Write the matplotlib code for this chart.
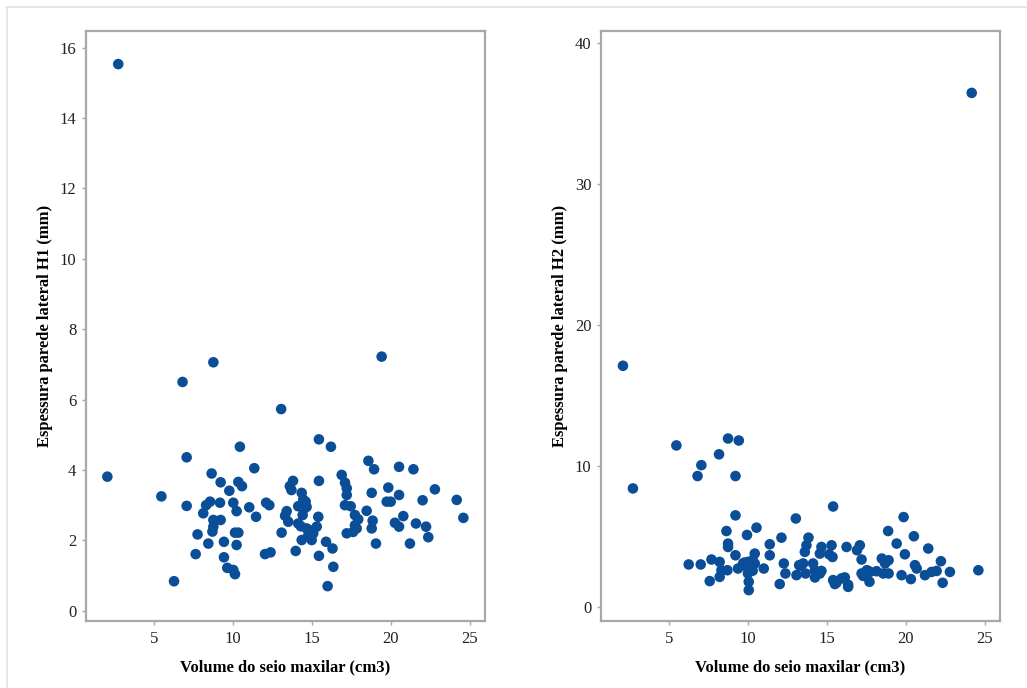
import matplotlib
matplotlib.use("Agg")
import matplotlib.pyplot as plt
from matplotlib.lines import Line2D

# ---- data ----
h1_x = [2.74, 19.41, 8.76, 6.81, 13.05, 15.44, 16.20, 10.44, 7.07, 2.05,
        11.35, 18.57, 18.93, 20.51, 21.42, 5.47, 8.65, 9.22, 9.77, 10.34,
        10.57, 7.07, 8.30, 8.55, 8.12, 9.18, 10.02, 10.23, 11.03, 11.46,
        12.10, 12.30, 8.76, 9.22, 8.76, 8.70, 7.76, 8.44, 9.43, 10.13,
        10.34, 10.23, 7.64, 9.43, 9.64, 10.02, 10.13, 12.03, 12.38, 6.27,
        13.08, 13.97, 13.40, 13.30, 13.50, 13.60, 13.80, 13.70, 14.35, 14.45,
        14.56, 14.13, 14.66, 14.41, 14.13, 14.66, 15.30, 15.08, 14.77, 14.98,
        14.35, 15.40, 15.44, 15.89, 16.30, 15.44, 16.35, 15.99, 16.88, 17.09,
        17.20, 17.20, 17.09, 17.45, 17.72, 17.93, 18.46, 17.72, 17.83, 17.20,
        17.60, 18.78, 18.84, 18.78, 19.05, 19.83, 19.73, 19.98, 20.51, 20.78,
        20.25, 20.51, 21.20, 21.58, 22.00, 22.22, 22.36, 22.78, 24.16, 24.58,
        14.60, 14.50, 14.30, 14.80]
h1_y = [15.53, 7.22, 7.06, 6.50, 5.73, 4.87, 4.66, 4.66, 4.36, 3.81,
        4.05, 4.26, 4.02, 4.09, 4.02, 3.25, 3.90, 3.65, 3.41, 3.66,
        3.54, 2.98, 3.00, 3.10, 2.77, 3.07, 3.07, 2.83, 2.94, 2.67,
        3.07, 3.00, 2.58, 2.58, 2.39, 2.25, 2.17, 1.91, 1.96, 2.22,
        2.22, 1.87, 1.61, 1.52, 1.22, 1.16, 1.04, 1.61, 1.66, 0.84,
        2.22, 1.70, 2.83, 2.70, 2.53, 3.54, 3.69, 3.43, 3.35, 3.16,
        3.03, 2.97, 2.95, 2.72, 2.48, 2.34, 2.39, 2.20, 2.15, 2.01,
        2.01, 2.67, 3.69, 1.96, 1.77, 1.56, 1.25, 0.70, 3.86, 3.64,
        3.48, 3.29, 3.00, 2.97, 2.72, 2.60, 2.84, 2.43, 2.34, 2.20,
        2.24, 3.35, 2.56, 2.34, 1.91, 3.50, 3.10, 3.10, 3.29, 2.69,
        2.50, 2.39, 1.91, 2.48, 3.14, 2.39, 2.09, 3.45, 3.15, 2.64,
        3.10, 2.90, 2.40, 2.30]

h2_x = [24.16, 2.09, 2.72, 5.47, 8.74, 9.42, 8.17, 7.05, 6.81, 9.21,
        9.21, 15.39, 13.03, 19.85, 10.54, 9.94, 8.64, 8.74, 8.74, 12.12,
        11.38, 11.38, 13.83, 13.70, 13.60, 14.65, 14.55, 9.21, 10.43, 10.30,
        10.43, 10.00, 10.05, 10.00, 10.05, 10.05, 9.69, 9.37, 7.69, 8.21,
        8.32, 8.21, 8.70, 7.58, 6.25, 7.01, 11.00, 12.27, 12.37, 12.01,
        13.07, 13.24, 13.49, 13.64, 14.12, 14.23, 14.55, 15.29, 16.24, 17.08,
        16.90, 17.19, 15.35, 15.14, 18.47, 18.68, 18.90, 18.90, 18.56, 17.52,
        17.19, 17.72, 18.14, 17.69, 15.39, 15.60, 15.92, 16.34, 16.34, 15.50,
        16.13, 19.72, 20.31, 20.57, 20.68, 21.20, 21.62, 21.94, 22.21, 22.32,
        22.78, 24.58, 18.87, 20.50, 19.41, 21.41, 19.93, 10.20, 10.30, 9.90,
        14.34, 14.24, 14.65, 13.30, 17.61, 17.29, 9.79]
h2_y = [36.48, 17.13, 8.43, 11.48, 11.97, 11.83, 10.85, 10.08, 9.31, 9.31,
        6.52, 7.15, 6.30, 6.40, 5.65, 5.13, 5.41, 4.52, 4.28, 4.94,
        4.47, 3.69, 4.94, 4.40, 3.93, 4.28, 3.81, 3.69, 3.81, 3.34,
        3.11, 3.22, 2.75, 2.40, 1.81, 1.22, 3.11, 2.75, 3.39, 3.22,
        2.63, 2.16, 2.63, 1.86, 3.04, 3.04, 2.75, 3.11, 2.40, 1.65,
        2.28, 2.99, 3.11, 2.40, 3.11, 2.63, 2.40, 4.40, 4.28, 4.40,
        4.05, 3.39, 3.57, 3.76, 3.46, 3.11, 3.34, 2.40, 2.40, 2.63,
        2.40, 2.51, 2.56, 1.81, 1.93, 1.74, 2.05, 1.45, 1.60, 1.65,
        2.12, 2.28, 2.00, 2.99, 2.75, 2.28, 2.51, 2.58, 3.27, 1.74,
        2.51, 2.63, 5.41, 5.04, 4.52, 4.17, 3.76, 2.90, 2.60, 2.90,
        2.35, 2.12, 2.58, 2.94, 2.58, 2.23, 3.18]

x_ticks = [5, 10, 15, 20, 25]
h1_ticks = [0, 2, 4, 6, 8, 10, 12, 14, 16]
h2_ticks = [0, 10, 20, 30, 40]
x_label = "Volume do seio maxilar (cm3)"
h1_label = "Espessura parede lateral H1 (mm)"
h2_label = "Espessura parede lateral H2 (mm)"

DOT = "#0B4E98"
SPINE = "#A8A8A8"
W, H = 1027, 688

fig = plt.figure(figsize=(W / 100, H / 100), dpi=100)
fig.patch.set_facecolor("white")

# faint outer frame lines (top and left)
fig.add_artist(Line2D([7 / W, 1], [1 - 7 / H, 1 - 7 / H], transform=fig.transFigure,
                      color="#E2E2E2", lw=1.2))
fig.add_artist(Line2D([7 / W, 7 / W], [0, 1 - 7 / H], transform=fig.transFigure,
                      color="#E2E2E2", lw=1.2))

def panel(left_px, xs, ys, yticks, ylim, ylabel):
    ax = fig.add_axes([left_px / W, 1 - 621 / H, 399 / W, 590 / H])
    ax.scatter(xs, ys, s=58, color=DOT, edgecolors="none", zorder=3)
    ax.set_xlim(0.7, 25.95)
    ax.set_ylim(*ylim)
    ax.set_xticks(x_ticks)
    ax.set_yticks(yticks)
    for sp in ax.spines.values():
        sp.set_color(SPINE)
        sp.set_linewidth(1.6)
    ax.tick_params(direction="out", length=3, width=1, color=SPINE,
                   labelsize=12, labelcolor="#222222", pad=4)
    for lab in ax.get_xticklabels() + ax.get_yticklabels():
        lab.set_family("Liberation Serif")
    ax.set_xlabel(x_label, fontsize=12, fontweight="bold",
                  family="Liberation Serif", labelpad=9)
    ax.set_ylabel(ylabel, fontsize=12, fontweight="bold",
                  family="Liberation Serif", labelpad=5)
    return ax

panel(86, h1_x, h1_y, h1_ticks, (-0.29, 16.47), h1_label)
panel(601, h2_x, h2_y, h2_ticks, (-0.97, 40.87), h2_label)

fig.savefig("out.png", dpi=100, facecolor="white")
